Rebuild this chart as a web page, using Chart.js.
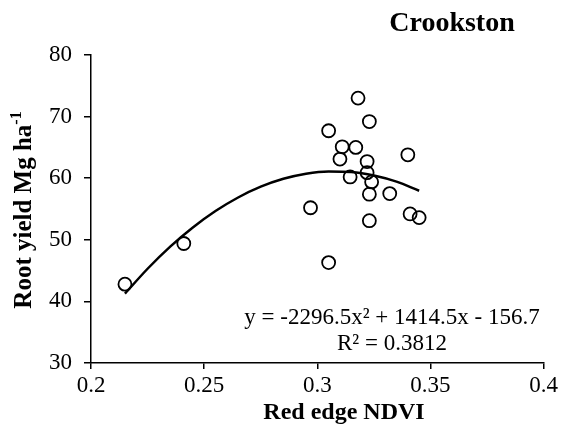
<!DOCTYPE html>
<html>
<head>
<meta charset="utf-8">
<script src="https://cdn.jsdelivr.net/npm/chart.js@4/dist/chart.umd.min.js"></script>
<style>
html,body{margin:0;padding:0;background:#fff;}
#wrap{width:561px;height:443px;}
</style>
</head>
<body>
<div id="wrap"><canvas id="c" width="561" height="443"></canvas></div>
<script>
const ndvi  = [0.318, 0.323, 0.305, 0.311, 0.317, 0.310, 0.322, 0.322, 0.3145, 0.324, 0.323, 0.332, 0.297, 0.323, 0.305, 0.340, 0.341, 0.345, 0.215, 0.241];
const yieldVals = [73.0, 69.2, 67.7, 65.1, 65.0, 63.1, 62.7, 60.9, 60.2, 59.4, 57.4, 57.5, 55.2, 53.1, 46.3, 63.8, 54.2, 53.6, 42.8, 49.4];

// Trendline points (as drawn in the picture)
const trendX = [0.215, 0.225, 0.235, 0.245, 0.255, 0.265, 0.275, 0.285, 0.295, 0.305, 0.315, 0.325, 0.335, 0.345];
const trendY = [41.26, 45.30, 48.89, 52.00, 54.67, 56.87, 58.62, 59.90, 60.73, 61.09, 61.00, 60.44, 59.44, 57.96];

// Tick labels
const xTickLabels = ['0.2', '0.25', '0.3', '0.35', '0.4'];
const yTickLabels = ['30', '40', '50', '60', '70', '80'];

const titleText = 'Crookston';
const xTitle = 'Red edge NDVI';
const yTitleMain = 'Root yield Mg ha';
const yTitleSup = '-1';
const eqLine1 = 'y = -2296.5x\u00B2 + 1414.5x - 156.7';
const eqLine2 = 'R\u00B2 = 0.3812';

const SERIF = "'Liberation Serif', 'Times New Roman', serif";

const pts = ndvi.map((x, i) => ({x: x, y: yieldVals[i]}));
const trend = trendX.map((x, i) => ({x: x, y: trendY[i]}));

const textPlugin = {
  id: 'texts',
  afterDraw(chart) {
    const ctx = chart.ctx;
    ctx.save();
    ctx.fillStyle = '#000';
    ctx.textAlign = 'center';
    ctx.textBaseline = 'alphabetic';
    // Title
    ctx.font = 'bold 28px ' + SERIF;
    ctx.fillText(titleText, 452, 31);
    // X title
    ctx.font = 'bold 24px ' + SERIF;
    ctx.fillText(xTitle, 344, 419);
    // Equation
    ctx.font = '23px ' + SERIF;
    ctx.fillText(eqLine1, 392, 324);
    ctx.fillText(eqLine2, 392, 350);
    // Y title rotated with superscript
    ctx.translate(31, 210);
    ctx.rotate(-Math.PI / 2);
    ctx.font = 'bold 25px ' + SERIF;
    const w1 = ctx.measureText(yTitleMain).width;
    ctx.font = 'bold 16px ' + SERIF;
    const w2 = ctx.measureText(yTitleSup).width;
    const start = -(w1 + w2) / 2;
    ctx.textAlign = 'left';
    ctx.font = 'bold 25px ' + SERIF;
    ctx.fillText(yTitleMain, start, 0);
    ctx.font = 'bold 16px ' + SERIF;
    ctx.fillText(yTitleSup, start + w1, -10);
    ctx.restore();
  }
};

new Chart(document.getElementById('c'), {
  type: 'scatter',
  data: {
    datasets: [
      {
        label: 'Trend',
        type: 'line',
        data: trend,
        borderColor: '#000',
        borderWidth: 2.5,
        pointRadius: 0,
        fill: false,
        tension: 0.4,
        cubicInterpolationMode: 'monotone'
      },
      {
        label: 'Root yield',
        data: pts,
        pointRadius: 6.5,
        pointHoverRadius: 6.5,
        pointBorderWidth: 1.8,
        borderColor: '#000',
        backgroundColor: 'rgba(0,0,0,0)',
        pointStyle: 'circle'
      }
    ]
  },
  options: {
    responsive: false,
    animation: false,
    devicePixelRatio: 1,
    layout: {padding: {top: 55, right: 17, left: 0, bottom: 0}},
    plugins: {legend: {display: false}, tooltip: {enabled: false}, title: {display: false}},
    scales: {
      x: {
        type: 'linear',
        min: 0.2, max: 0.4,
        afterFit(s) { s.height = 80; },
        afterBuildTicks(s) { s.ticks = xTickLabels.map(t => ({value: parseFloat(t)})); },
        ticks: {
          color: '#000',
          font: {family: SERIF, size: 23},
          padding: 3,
          maxRotation: 0,
          callback: (v, i) => xTickLabels[i]
        },
        grid: {display: true, drawOnChartArea: false, drawTicks: true, tickLength: 6, color: '#000', lineWidth: 1.5},
        border: {display: true, color: '#000', width: 1.5}
      },
      y: {
        type: 'linear',
        min: 30, max: 80,
        afterFit(s) { s.width = 91; },
        afterBuildTicks(s) { s.ticks = yTickLabels.map(t => ({value: parseFloat(t)})); },
        ticks: {
          color: '#000',
          font: {family: SERIF, size: 23},
          padding: 12,
          callback: (v, i) => yTickLabels[i]
        },
        grid: {display: true, drawOnChartArea: false, drawTicks: true, tickLength: 7, color: '#000', lineWidth: 1.5},
        border: {display: true, color: '#000', width: 1.5}
      }
    }
  },
  plugins: [textPlugin]
});
</script>
</body>
</html>
